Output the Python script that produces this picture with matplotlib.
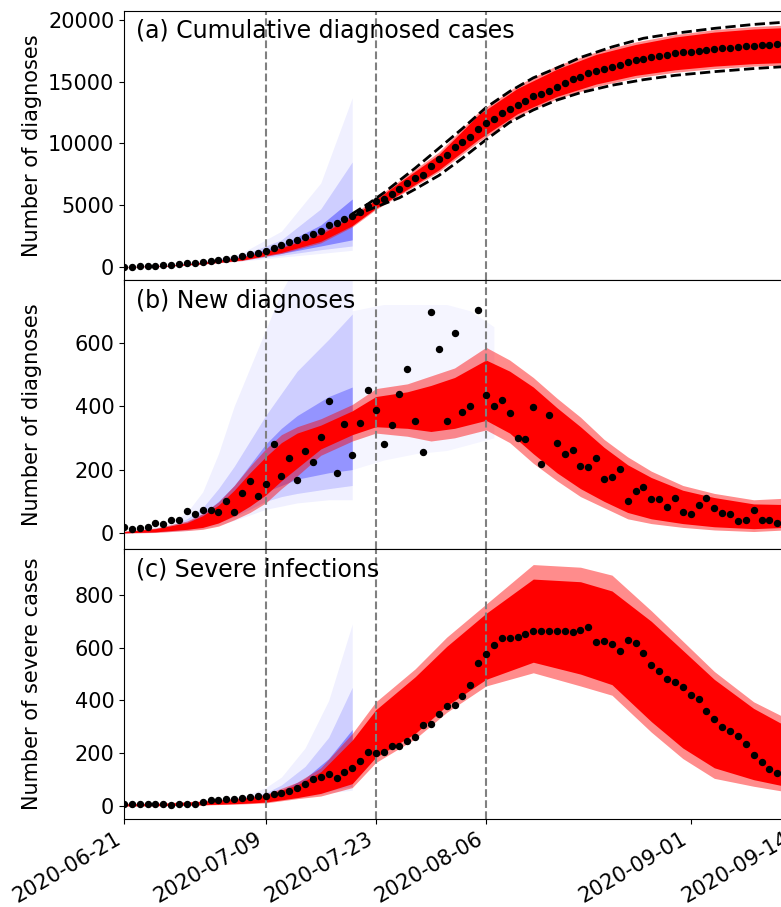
import numpy as np
import matplotlib
matplotlib.use("Agg")
import matplotlib.pyplot as plt
import matplotlib.dates as mdates

plt.rcParams['font.family'] = ['DejaVu Sans']
plt.rcParams['font.size'] = 14

START = np.datetime64('2020-06-21')
END = np.datetime64('2020-09-14')
vline_dates = ['2020-07-09', '2020-07-23', '2020-08-06']
tick_dates = ['2020-06-21', '2020-07-09', '2020-07-23', '2020-08-06', '2020-09-01', '2020-09-14']
titles = ['(a) Cumulative diagnosed cases', '(b) New diagnoses', '(c) Severe infections']
ylabels = ['Number of diagnoses', 'Number of diagnoses', 'Number of severe cases']

# observed data (daily, from 2020-06-21)
cum_obs = [20, 33, 50, 70, 103, 133, 175, 217, 288, 348, 420, 492, 557, 659, 727, 852, 1016, 1133, 1288, 1569,
           1750, 1988, 2156, 2413, 2638, 2941, 3358, 3548, 3891, 4138, 4486, 4937, 5325,
           5504, 5910, 6341, 6829, 7187, 7480, 8130, 8730, 9057, 9675, 10114, 10520, 11170, 11658, 12008, 12439,
           12740, 13065, 13415, 13797, 14016, 14260, 14585, 14910, 15178, 15397, 15666, 15884, 16014, 16209,
           16371, 16560, 16723, 16830, 16967, 17105, 17186, 17293, 17350, 17430, 17480, 17535, 17593, 17675,
           17730, 17784, 17837, 17886, 17918, 17946, 18000, 18000]
new_obs = [20, 13, 17, 20, 33, 30, 42, 42, 71, 60, 72, 72, 65, 102, 68, 125, 164, 117, 155, 281,
           181, 238, 168, 257, 225, 303, 417, 190, 343, 247, 348, 451, 388, 280, 340, 439, 516, 354, 256, 697,
           580, 354, 629, 381, 399, 702, 436, 399, 418, 377, 299, 296, 396, 218, 372, 283, 249, 263, 212, 209,
           238, 170, 178, 203, 100, 134, 144, 106, 108, 81, 112, 66, 59, 87, 112, 79, 64, 60, 37, 42,
           73, 42, 41, 33, 36]
severe_obs = [6, 9, 6, 6, 6, 6, 3, 6, 9, 9, 16, 23, 24, 25, 28, 29, 34, 39, 39, 45,
              48, 57, 67, 83, 104, 109, 121, 107, 129, 145, 172, 204, 201, 206, 229, 227, 246, 260, 306, 311,
              349, 379, 384, 417, 458, 541, 578, 609, 637, 637, 641, 652, 664, 665, 662, 664, 664, 658, 666, 678,
              623, 627, 613, 586, 631, 618, 579, 533, 513, 482, 471, 452, 422, 406, 361, 330, 298, 283, 265, 235,
              195, 167, 139, 124, 118]

# panel (a): dashed interval
ci_days = [29, 31, 33, 35, 37, 40, 43, 46, 49, 52, 55, 58, 62, 66, 70, 75, 80, 85, 87]
ci_upper = [4300, 5100, 6000, 7000, 8000, 9600, 11200, 12900, 14200, 15300, 16100, 16950, 17800, 18500, 18900,
            19300, 19620, 19850, 19920]
ci_lower = [4100, 4600, 5100, 5600, 6300, 7400, 8800, 10300, 11700, 12700, 13500, 14100, 14700, 15150, 15500,
            15800, 16050, 16250, 16300]

# panel (a): model ensemble envelopes
red_a_days = [0, 5, 10, 15, 20, 25, 29, 32, 35, 40, 45, 50, 55, 60, 65, 70, 75, 80, 87]
red_a_out_hi = [25, 110, 400, 850, 1650, 2800, 4200, 5600, 7000, 9300, 12500, 14700, 16300, 17400, 18200, 18800,
                19200, 19450, 19650]
red_a_out_lo = [0, 40, 230, 520, 1100, 1950, 3250, 4650, 5800, 7700, 10100, 12200, 13600, 14600, 15300, 15750,
                16050, 16250, 16400]
red_a_in_hi = [22, 100, 380, 800, 1550, 2650, 4050, 5450, 6850, 9100, 12300, 14450, 16000, 17200, 18000, 18600,
               19000, 19250, 19450]
red_a_in_lo = [2, 50, 260, 560, 1180, 2080, 3350, 4750, 5900, 7850, 10300, 12400, 13800, 14800, 15500, 15950,
               16250, 16450, 16600]
blue_a_days = [0, 5, 10, 15, 20, 25, 29]
blue_a_out_hi = [25, 130, 450, 1150, 2900, 6800, 13700]
blue_a_out_lo = [10, 60, 240, 480, 800, 1100, 1350]
blue_a_mid_hi = [22, 115, 400, 950, 2200, 4700, 8500]
blue_a_mid_lo = [12, 70, 270, 560, 950, 1400, 1700]
blue_a_in_hi = [20, 105, 370, 850, 1800, 3400, 5500]
blue_a_in_lo = [14, 80, 300, 620, 1100, 1700, 2200]

# panel (b)
red_b_days = [0, 4, 8, 10, 12, 14, 16, 18, 20, 22, 25, 29, 32, 36, 39, 42, 46, 49, 52, 55, 58, 61, 64, 67, 71,
              75, 80, 84, 87]
red_b_out_hi = [6, 16, 38, 62, 98, 150, 210, 265, 310, 335, 360, 405, 455, 470, 495, 520, 585, 545, 490, 425, 365,
                295, 240, 195, 150, 125, 105, 110, 100]
red_b_out_lo = [0, 2, 8, 12, 22, 42, 65, 95, 140, 180, 245, 290, 315, 305, 290, 300, 325, 285, 220, 165, 115, 80,
                45, 30, 18, 10, 5, 10, 10]
red_b_in_hi = [5, 14, 33, 55, 88, 135, 190, 240, 285, 315, 340, 385, 430, 445, 465, 490, 545, 510, 460, 395, 335,
               270, 215, 175, 135, 112, 92, 90, 85]
red_b_in_lo = [1, 4, 12, 18, 32, 55, 85, 120, 165, 205, 265, 310, 335, 330, 320, 330, 355, 315, 250, 190, 140, 100,
               65, 45, 30, 20, 14, 18, 18]
blue_b_days = [0, 4, 6, 8, 10, 12, 14, 16, 18, 20, 22, 26, 29]
blue_b_out_hi = [6, 20, 35, 65, 130, 250, 400, 520, 640, 760, 850, 900, 900]
blue_b_out_lo = [0, 3, 5, 8, 14, 25, 40, 57, 75, 85, 95, 105, 105]
blue_b_mid_hi = [5, 15, 25, 45, 80, 140, 210, 290, 370, 440, 510, 610, 690]
blue_b_mid_lo = [1, 4, 7, 11, 20, 33, 52, 75, 100, 115, 125, 140, 150]
blue_b_in_hi = [4, 12, 20, 35, 60, 100, 150, 215, 280, 330, 370, 430, 460]
blue_b_in_lo = [1, 5, 9, 14, 25, 42, 70, 100, 130, 150, 170, 190, 200]
blue_b_ext_days = [29, 33, 37, 41, 44, 47]
blue_b_ext_hi = [700, 720, 720, 720, 700, 650]
blue_b_ext_lo = [200, 230, 250, 260, 280, 300]

# panel (c)
red_c_days = [0, 5, 10, 15, 18, 22, 25, 29, 32, 37, 41, 46, 52, 58, 62, 67, 71, 75, 80, 84, 87]
red_c_out_hi = [10, 12, 20, 32, 45, 90, 145, 275, 395, 520, 640, 765, 915, 905, 875, 740, 625, 510, 395, 335, 310]
red_c_out_lo = [0, 1, 4, 8, 12, 28, 38, 70, 165, 255, 355, 455, 505, 455, 420, 280, 180, 105, 75, 55, 50]
red_c_in_hi = [8, 10, 18, 29, 41, 80, 130, 250, 365, 490, 605, 730, 860, 850, 815, 700, 590, 480, 370, 305, 285]
red_c_in_lo = [1, 2, 5, 10, 15, 32, 48, 85, 185, 275, 380, 480, 545, 500, 460, 320, 220, 145, 100, 75, 70]
blue_c_days = [0, 5, 10, 15, 18, 20, 23, 26, 29]
blue_c_out_hi = [6, 8, 15, 35, 70, 110, 220, 400, 690]
blue_c_out_lo = [2, 4, 8, 12, 18, 25, 35, 50, 60]
blue_c_mid_hi = [5, 7, 13, 28, 50, 80, 150, 260, 450]
blue_c_mid_lo = [3, 5, 9, 15, 22, 30, 42, 58, 75]
blue_c_in_hi = [5, 7, 12, 24, 40, 60, 105, 180, 290]
blue_c_in_lo = [3, 5, 10, 18, 26, 35, 50, 70, 90]


def to_dates(days):
    return START + np.array(days, dtype='timedelta64[D]')


W, H = 781, 907
fig = plt.figure(figsize=(W / 100, H / 100), dpi=100)
left = 124 / W
width = (793 - 124) / W
panels_px = [(10.7, 280), (280, 549), (549, 819)]
axes = []
for top, bot in panels_px:
    ax = fig.add_axes([left, 1 - bot / H, width, (bot - top) / H])
    axes.append(ax)

ylims = [(-1050, 20730), (-50, 797), (-49, 974)]
yticks = [[0, 5000, 10000, 15000, 20000], [0, 200, 400, 600], [0, 200, 400, 600, 800]]

obs = [cum_obs, new_obs, severe_obs]
blue_sets = [
    (blue_a_days, [(blue_a_out_lo, blue_a_out_hi, 0.06), (blue_a_mid_lo, blue_a_mid_hi, 0.14),
                   (blue_a_in_lo, blue_a_in_hi, 0.35)]),
    (blue_b_days, [(blue_b_out_lo, blue_b_out_hi, 0.06), (blue_b_mid_lo, blue_b_mid_hi, 0.14),
                   (blue_b_in_lo, blue_b_in_hi, 0.28)]),
    (blue_c_days, [(blue_c_out_lo, blue_c_out_hi, 0.06), (blue_c_mid_lo, blue_c_mid_hi, 0.14),
                   (blue_c_in_lo, blue_c_in_hi, 0.35)]),
]
red_sets = [
    (red_a_days, red_a_out_lo, red_a_out_hi, red_a_in_lo, red_a_in_hi),
    (red_b_days, red_b_out_lo, red_b_out_hi, red_b_in_lo, red_b_in_hi),
    (red_c_days, red_c_out_lo, red_c_out_hi, red_c_in_lo, red_c_in_hi),
]

for i, ax in enumerate(axes):
    bd, bands = blue_sets[i]
    for lo, hi, a in bands:
        ax.fill_between(to_dates(bd), lo, hi, color=(0, 0, 1), alpha=a, lw=0)
    if i == 1:
        ax.fill_between(to_dates(blue_b_ext_days), blue_b_ext_lo, blue_b_ext_hi, color=(0, 0, 1), alpha=0.04, lw=0)
    rd, olo, ohi, ilo, ihi = red_sets[i]
    ax.fill_between(to_dates(rd), olo, ohi, color=(1, 0, 0), alpha=0.45, lw=0)
    ax.fill_between(to_dates(rd), ilo, ihi, color=(1, 0, 0), alpha=1.0, lw=0)
    if i == 0:
        ax.plot(to_dates(ci_days), ci_upper, color='black', ls='--', lw=2)
        ax.plot(to_dates(ci_days), ci_lower, color='black', ls='--', lw=2)
    for d in vline_dates:
        ax.axvline(np.datetime64(d), color='gray', ls='--', lw=1.5)
    ax.plot(to_dates(range(len(obs[i]))), obs[i], 'o', color='black', ms=4.3, zorder=5)
    ax.set_ylim(*ylims[i])
    ax.set_yticks(yticks[i])
    ax.set_xlim(START, END)
    ax.set_ylabel(ylabels[i], fontsize=15)
    ax.text(0.018, 0.968, titles[i], transform=ax.transAxes, ha='left', va='top', fontsize=17)
    ax.set_xticks([np.datetime64(t) for t in tick_dates])
    ax.xaxis.set_major_formatter(mdates.DateFormatter('%Y-%m-%d'))
    ax.tick_params(axis='both', labelsize=15)
    if i < 2:
        ax.tick_params(axis='x', labelbottom=False)
    ax.yaxis.set_label_coords(-0.122, 0.5)

for lab in axes[2].get_xticklabels():
    lab.set_rotation(30)
    lab.set_ha('right')

fig.savefig('out.png', dpi=100)
